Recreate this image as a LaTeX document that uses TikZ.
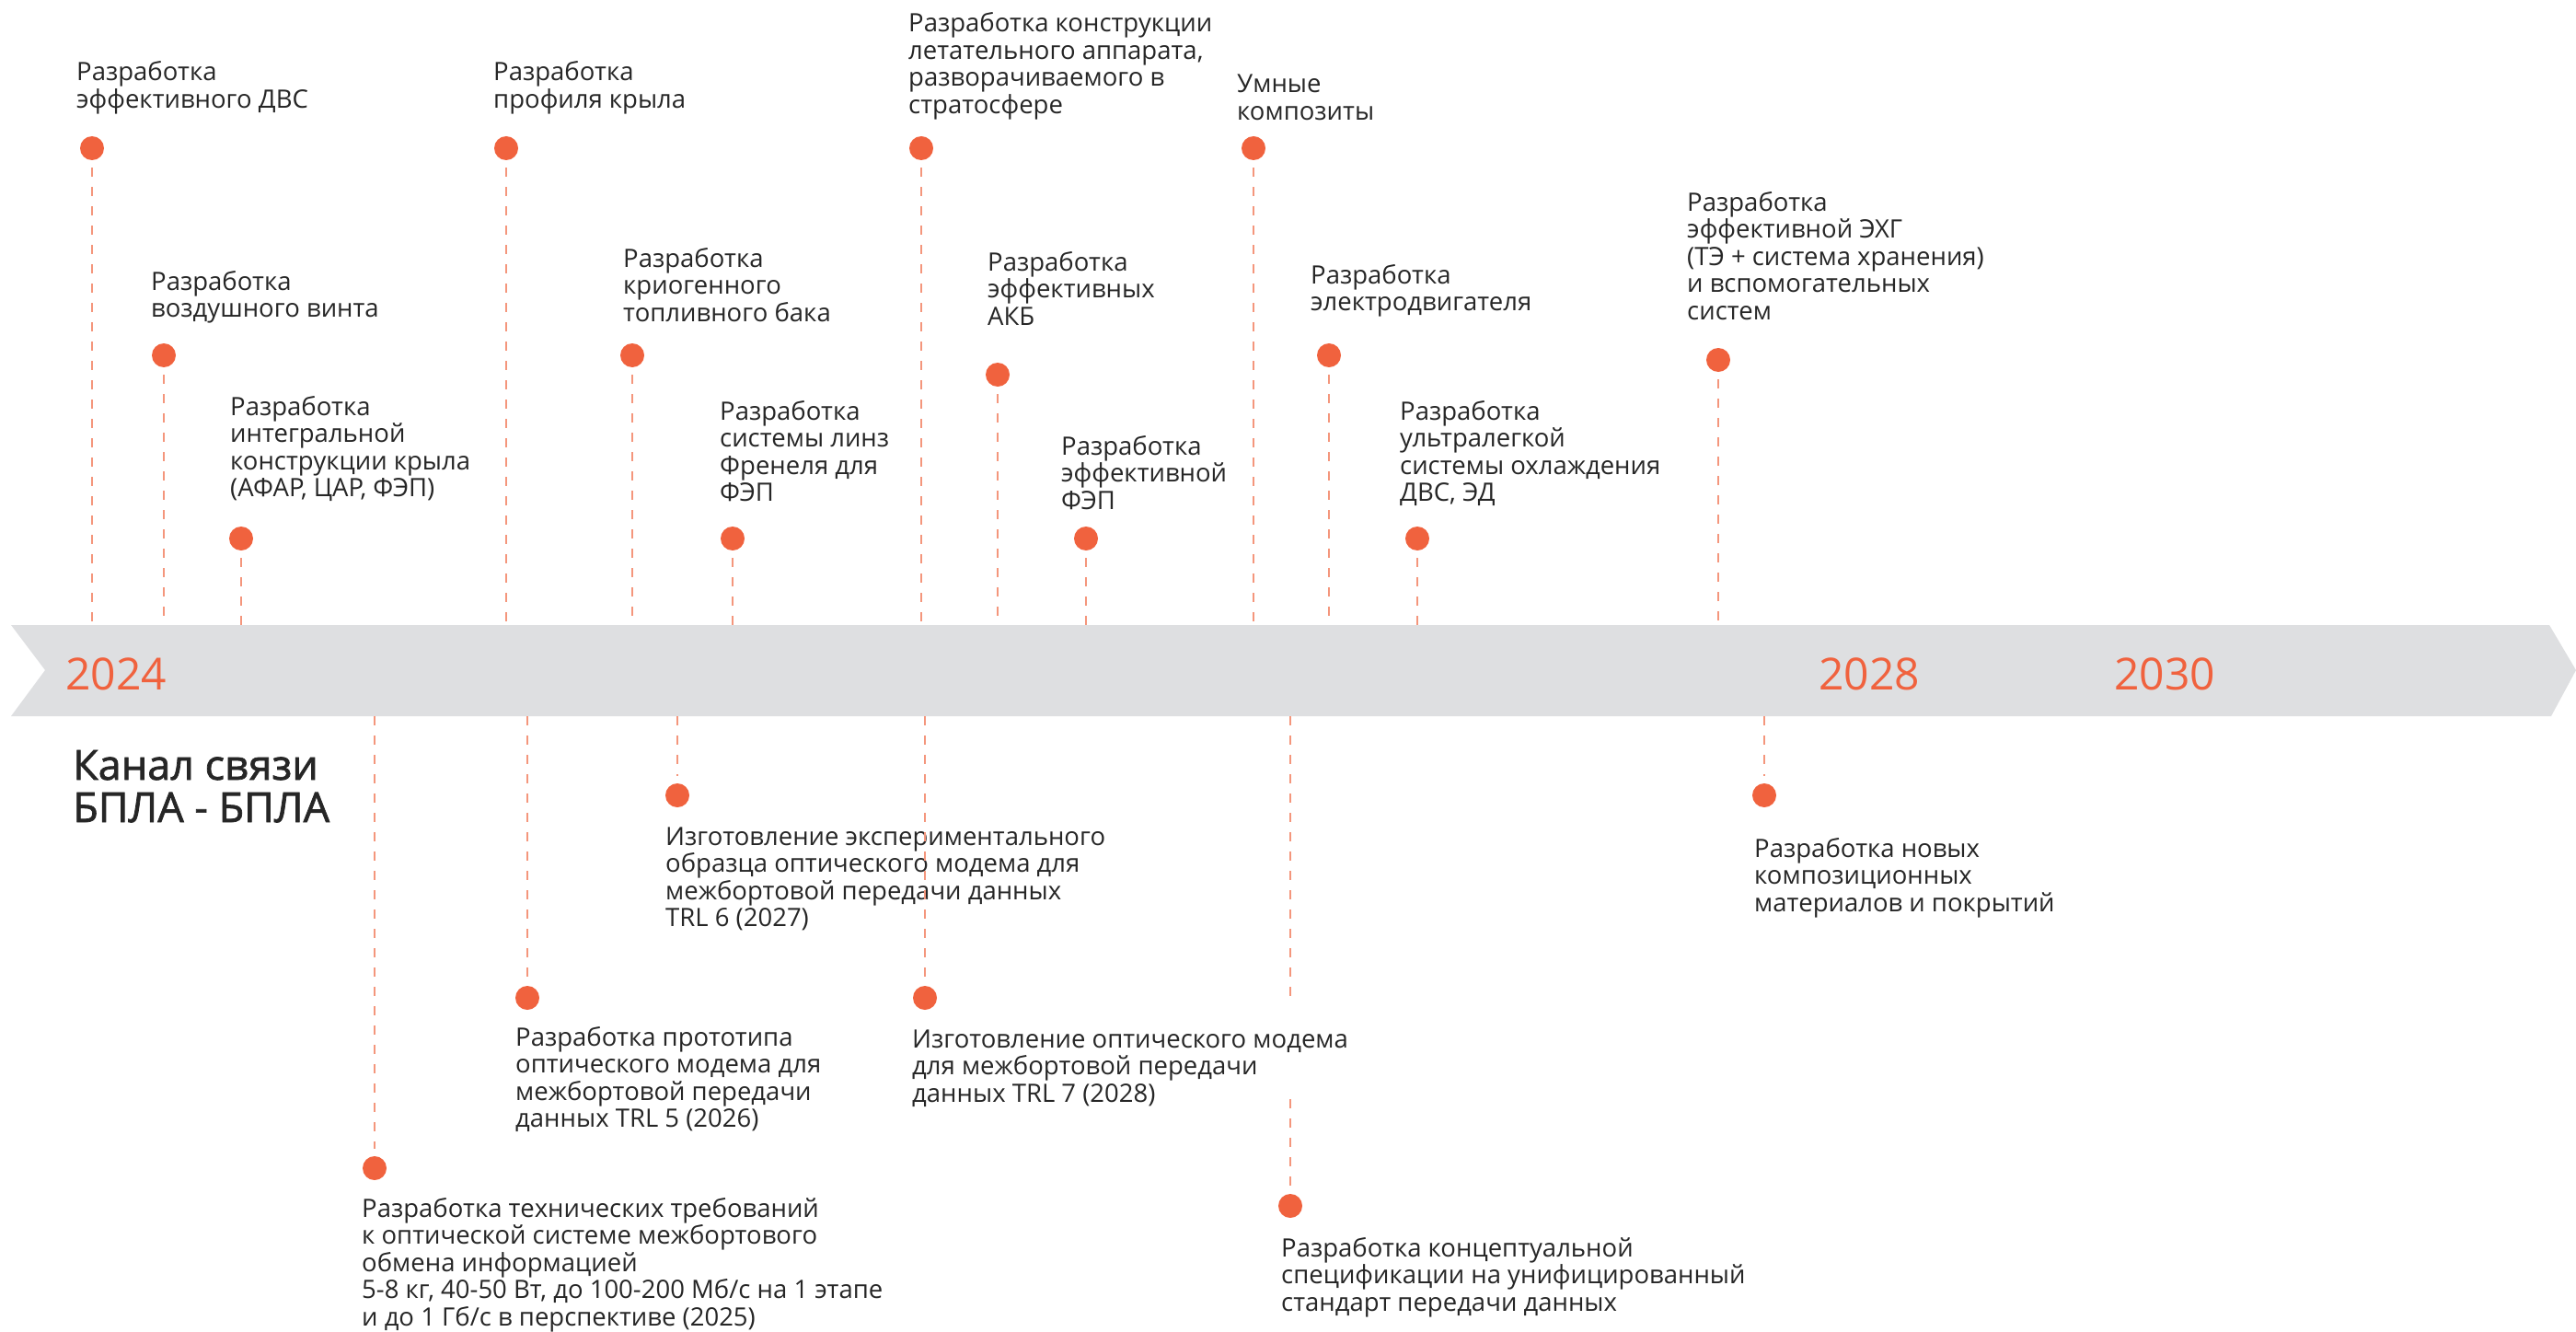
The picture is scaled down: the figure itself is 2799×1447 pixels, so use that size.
\documentclass[tikz,border=0pt]{standalone}
\usepackage{fontspec}
\setmainfont{Open Sans}
\newfontfamily\headfont[FakeBold=1.6]{Open Sans}
\usetikzlibrary{positioning}
\definecolor{accent}{RGB}{240,98,62}
\definecolor{stemcol}{RGB}{244,150,124}
\definecolor{bandgray}{RGB}{222,223,225}
\definecolor{darktext}{RGB}{38,38,38}

\tikzset{
  dot/.style={circle, fill=accent, inner sep=0pt, minimum size=26pt},
  stem/.style={draw=stemcol, line width=2pt, dash pattern=on 10pt off 11pt},
  % anchored at the baseline of the last line
  note/.style={anchor=base west, inner sep=0pt, align=left, text=darktext,
    font=\fontsize{27.5}{29.5}\selectfont},
  year/.style={anchor=base west, inner sep=0pt, text=accent,
    font=\fontsize{48}{52}\selectfont},
}

\begin{document}
\begin{tikzpicture}[x=1pt, y=-1pt]
  \useasboundingbox (0,0) rectangle (2799,1447);

  % Timeline band
  \fill[bandgray] (12,679) -- (2770,679) -- (2799,728) -- (2772,778)
    -- (12,778) -- (49,728) -- cycle;
  \coordinate (bandtop) at (0,679);
  \coordinate (bandbot) at (0,778);

  % Years
  \node[year] (y24) at (71,749) {2024};
  \node[year] (y28) at (1976,749) {2028};
  \node[year] (y30) at (2297,749) {2030};

  % Track title
  \node[anchor=base west, inner sep=0pt, align=left, text=darktext,
    font=\headfont\fontsize{45}{46}\selectfont] (title) at (79,893)
    {Канал связи\\БПЛА - БПЛА};

  % Milestones above the band
  \node[dot] (dA) at (100,161) {};
  \node[note] (tA) at (83,117.5) {Разработка\\эффективного ДВС};
  \draw[stem, shorten <=8pt] (dA) -- (dA |- bandtop);

  \node[dot] (dB) at (178,386) {};
  \node[note] (tB) at (164,344.5) {Разработка\\воздушного винта};
  \draw[stem, shorten <=8pt] (dB) -- (dB |- bandtop);

  \node[dot] (dC) at (262,585) {};
  \node[note] (tC) at (250,539.5) {Разработка\\интегральной\\конструкции крыла\\(АФАР, ЦАР, ФЭП)};
  \draw[stem, shorten <=8pt] (dC) -- (dC |- bandtop);

  \node[dot] (dD) at (550,161) {};
  \node[note] (tD) at (536,117.5) {Разработка\\профиля крыла};
  \draw[stem, shorten <=8pt] (dD) -- (dD |- bandtop);

  \node[dot] (dE) at (687,386) {};
  \node[note] (tE) at (677,349) {Разработка\\криогенного\\топливного бака};
  \draw[stem, shorten <=8pt] (dE) -- (dE |- bandtop);

  \node[dot] (dF) at (796,585) {};
  \node[note] (tF) at (782,544.5) {Разработка\\системы линз\\Френеля для\\ФЭП};
  \draw[stem, shorten <=8pt] (dF) -- (dF |- bandtop);

  \node[dot] (dG) at (1001,161) {};
  \node[note] (tG) at (987,123.5) {Разработка конструкции\\летательного аппарата,\\разворачиваемого в\\стратосфере};
  \draw[stem, shorten <=8pt] (dG) -- (dG |- bandtop);

  \node[dot] (dH) at (1362,161) {};
  \node[note] (tH) at (1344,130.5) {Умные\\композиты};
  \draw[stem, shorten <=8pt] (dH) -- (dH |- bandtop);

  \node[dot] (dI) at (1084,407) {};
  \node[note] (tI) at (1073,353) {Разработка\\эффективных\\АКБ};
  \draw[stem, shorten <=8pt] (dI) -- (dI |- bandtop);

  \node[dot] (dJ) at (1180,585) {};
  \node[note] (tJ) at (1153,553) {Разработка\\эффективной\\ФЭП};
  \draw[stem, shorten <=8pt] (dJ) -- (dJ |- bandtop);

  \node[dot] (dK) at (1444,386) {};
  \node[note] (tK) at (1424,337.5) {Разработка\\электродвигателя};
  \draw[stem, shorten <=8pt] (dK) -- (dK |- bandtop);

  \node[dot] (dL) at (1540,585) {};
  \node[note] (tL) at (1521,544.5) {Разработка\\ультралегкой\\системы охлаждения\\ДВС, ЭД};
  \draw[stem, shorten <=8pt] (dL) -- (dL |- bandtop);

  \node[dot] (dM) at (1867,391) {};
  \node[note] (tM) at (1833,347) {Разработка\\эффективной ЭХГ\\(ТЭ + система хранения)\\и вспомогательных\\систем};
  \draw[stem, shorten <=8pt] (dM) -- (dM |- bandtop);

  % Milestones below the band
  \node[dot] (dN) at (407,1269) {};
  \node[note] (tN) at (393,1440) {Разработка технических требований\\к оптической системе межбортового\\обмена информацией\\5-8 кг, 40-50 Вт, до 100-200 Мб/с на 1 этапе\\и до 1 Гб/с в перспективе (2025)};
  \draw[stem, shorten >=8pt] (dN |- bandbot) -- (dN);

  \node[dot] (dO) at (573,1084) {};
  \node[note] (tO) at (560,1224.5) {Разработка прототипа\\оптического модема для\\межбортовой передачи\\данных TRL 5 (2026)};
  \draw[stem, shorten >=8pt] (dO |- bandbot) -- (dO);

  \node[dot] (dP) at (736,864) {};
  \node[note] (tP) at (723,1006.5) {Изготовление экспериментального\\образца оптического модема для\\межбортовой передачи данных\\TRL 6 (2027)};
  \draw[stem, shorten >=8pt] (dP |- bandbot) -- (dP);

  \node[dot] (dQ) at (1005,1084) {};
  \node[note] (tQ) at (991,1197) {Изготовление оптического модема\\для межбортовой передачи\\данных TRL 7 (2028)};
  \draw[stem, shorten >=8pt] (dQ |- bandbot) -- (dQ);

  \node[dot] (dR) at (1402,1310) {};
  \node[note] (tR) at (1392,1424) {Разработка концептуальной\\спецификации на унифицированный\\стандарт передачи данных};
  \coordinate (gapRa) at (1402,1087);
  \coordinate (gapRb) at (1402,1194);
  \draw[stem] (dR |- bandbot) -- (gapRa);
  \draw[stem, shorten >=8pt] (gapRb) -- (dR);

  \node[dot] (dS) at (1917,864) {};
  \node[note] (tS) at (1906,990) {Разработка новых\\композиционных\\материалов и покрытий};
  \draw[stem, shorten >=8pt] (dS |- bandbot) -- (dS);
\end{tikzpicture}
\end{document}
